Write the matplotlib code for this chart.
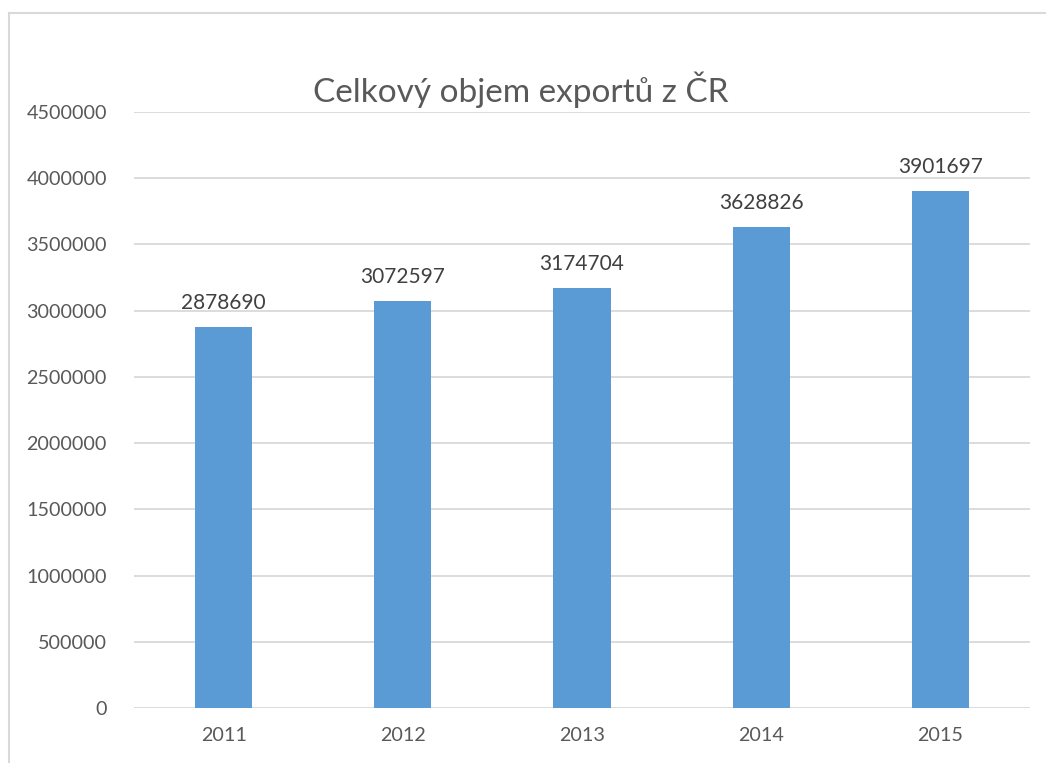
import matplotlib
matplotlib.use("Agg")
import matplotlib.pyplot as plt
from matplotlib.lines import Line2D

years = ["2011", "2012", "2013", "2014", "2015"]
values = [2878690, 3072597, 3174704, 3628826, 3901697]
title = "Celkový objem exportů z ČR"

plt.rcParams['font.family'] = ['Lato', 'DejaVu Sans']

W, H = 1046, 763
fig = plt.figure(figsize=(W / 100, H / 100), dpi=100)
ax = fig.add_axes([134 / W, 1 - 708 / H, (1030 - 134) / W, (708 - 112) / H])

x = range(len(years))
bars = ax.bar(x, values, width=0.32, color="#5b9bd5", zorder=3)
ax.set_xlim(-0.5, len(years) - 0.5)
ax.set_ylim(0, 4500000)
ax.set_yticks(range(0, 4500001, 500000))
ax.set_yticklabels([str(v) for v in range(0, 4500001, 500000)])
ax.set_xticks(list(x))
ax.set_xticklabels(years)
ax.grid(axis="y", color="#d9d9d9", linewidth=1.3, zorder=0)
for s in ax.spines.values():
    s.set_visible(False)
ax.tick_params(length=0, labelsize=14.2, colors="#595959")
ax.tick_params(axis="x", pad=14)
ax.tick_params(axis="y", pad=19.5)

for xi, v in zip(x, values):
    ax.annotate(str(v), (xi, v), xytext=(0, 10), textcoords="offset points",
                ha="center", va="bottom", fontsize=15, color="#404040")

fig.text(521 / W, 1 - 90 / H, title, ha="center", va="center", fontsize=24, color="#595959")

fig.add_artist(Line2D([9 / W, 9 / W], [0, 1 - 13 / H], color="#d9d9d9", linewidth=1.5))
fig.add_artist(Line2D([9 / W, 1], [1 - 13 / H, 1 - 13 / H], color="#d9d9d9", linewidth=1.5))

fig.savefig("out.png", dpi=100)
